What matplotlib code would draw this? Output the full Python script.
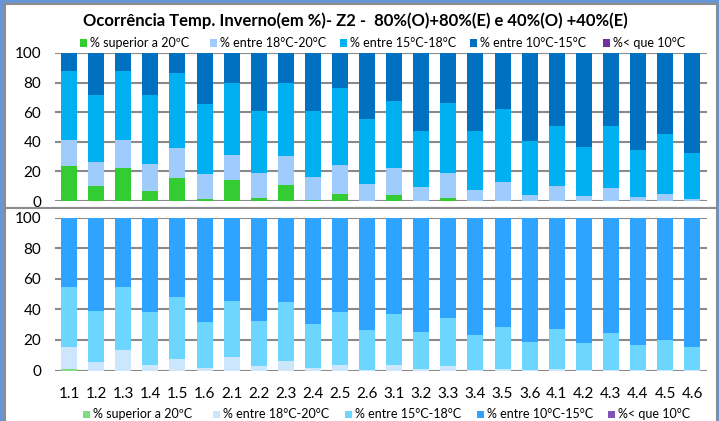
import matplotlib
matplotlib.use("Agg")
import matplotlib.pyplot as plt
from matplotlib.patches import Rectangle
import numpy as np

plt.rcParams['font.family'] = ['Lato', 'DejaVu Sans']

categories = ["1.1", "1.2", "1.3", "1.4", "1.5", "1.6",
              "2.1", "2.2", "2.3", "2.4", "2.5", "2.6",
              "3.1", "3.2", "3.3", "3.4", "3.5", "3.6",
              "4.1", "4.2", "4.3", "4.4", "4.5", "4.6"]

series_labels = ["% superior a 20ºC", "% entre 18°C-20°C", "% entre 15°C-18°C",
                 "% entre 10°C-15°C", "%< que 10°C"]

# Top panel (80%(O)+80%(E))
top_sup20 = [23.8, 9.9, 22.2, 6.5, 15.7, 1.3, 14.4, 2.0, 11.0, 0.9, 4.9, 0.0,
             4.3, 0.0, 2.0, 0.0, 0.0, 0.0, 0.0, 0.0, 0.0, 0.0, 0.0, 0.0]
top_18_20 = [17.3, 16.4, 18.9, 18.4, 20.0, 17.1, 16.6, 16.9, 19.6, 15.5, 19.4, 11.7,
             17.9, 9.4, 16.9, 7.4, 12.8, 4.0, 10.1, 3.4, 8.5, 2.5, 4.7, 1.3]
top_15_18 = [46.8, 45.2, 46.8, 46.6, 50.6, 47.2, 48.6, 41.8, 49.0, 44.3, 51.9, 43.6,
             45.2, 37.8, 47.2, 39.8, 49.2, 36.4, 40.5, 33.0, 42.1, 31.9, 40.5, 31.1]
top_10_15 = [12.1, 28.5, 12.1, 28.5, 13.7, 34.4, 20.4, 39.3, 20.4, 39.3, 23.8, 44.7,
             32.6, 52.8, 33.9, 52.8, 38.0, 59.6, 49.4, 63.6, 49.4, 65.6, 54.8, 67.6]
top_lt10 = [0.0] * 24

# Bottom panel (40%(O)+40%(E))
bot_sup20 = [1.3, 0.0, 0.0, 0.0, 0.0, 0.0, 0.0, 0.0, 0.0, 0.0, 0.0, 0.0,
             0.0, 0.0, 0.0, 0.0, 0.0, 0.0, 0.0, 0.0, 0.0, 0.0, 0.0, 0.0]
bot_18_20 = [14.2, 5.7, 13.1, 3.7, 7.6, 1.7, 8.7, 2.8, 6.5, 1.7, 3.3, 0.3,
             3.7, 1.1, 2.8, 0.2, 1.1, 0.2, 1.1, 0.2, 0.3, 0.2, 0.2, 0.2]
bot_15_18 = [39.2, 33.3, 41.6, 34.6, 40.5, 30.1, 36.6, 29.7, 38.4, 29.0, 35.0, 26.3,
             33.1, 24.2, 31.6, 23.1, 27.4, 18.3, 25.9, 17.7, 24.5, 16.6, 19.6, 15.1]
bot_10_15 = [45.3, 60.5, 45.3, 61.2, 51.9, 67.7, 54.7, 67.0, 55.1, 68.8, 61.7, 72.9,
             62.9, 74.4, 65.3, 76.2, 71.2, 81.0, 72.7, 81.6, 74.9, 82.7, 79.9, 84.4]
bot_lt10 = [0.0, 0.5, 0.0, 0.5, 0.0, 0.5, 0.0, 0.5, 0.0, 0.5, 0.0, 0.5,
            0.3, 0.3, 0.3, 0.5, 0.3, 0.5, 0.3, 0.5, 0.3, 0.5, 0.3, 0.3]

y_ticks = [0, 20, 40, 60, 80, 100]

title = "Ocorrência Temp. Inverno(em %)- Z2 -  80%(O)+80%(E) e 40%(O) +40%(E)"

top_colors = ["#33CC33", "#9FCBFD", "#00B0F0", "#0070C0", "#7030A0"]
bot_colors = ["#80DC80", "#CCE7FD", "#6CD6FF", "#2EA3FF", "#7F55B8"]

W, H = 719, 421
fig = plt.figure(figsize=(W / 100, H / 100), dpi=100)
fig.patch.set_facecolor("#6896D4")

def fx(px):
    return px / W

def fy(py):
    return 1 - py / H

# white boxes with grey borders
for (x0, y0, x1, y1) in [(4.5, 3.5, 717, 207.5), (4.5, 208.5, 717, 425)]:
    fig.patches.append(Rectangle((fx(x0), fy(y1)), fx(x1) - fx(x0), fy(y0) - fy(y1),
                                 transform=fig.transFigure, facecolor="white",
                                 edgecolor="#8C8C8C", linewidth=1.5, zorder=-10))

x = np.arange(len(categories))
bw = 0.59

def draw_panel(ax, segments, colors, show_xlabels):
    bottom = np.zeros(len(categories))
    for seg, col, lab in zip(segments, colors, series_labels):
        vals = np.array(seg)
        ax.bar(x, vals, bw, bottom=bottom, color=col, label=lab, zorder=3, linewidth=0)
        bottom += vals
    ax.set_xlim(-0.52, 23.53)
    ax.set_ylim(0, 100)
    ax.set_yticks(y_ticks)
    ax.yaxis.grid(True, color="#8A8A8A", linewidth=1.5)
    ax.set_axisbelow(True)
    for s in ax.spines.values():
        s.set_visible(False)
    ax.tick_params(axis="both", length=0)
    ax.tick_params(axis="y", pad=10, labelsize=11, colors="#000000")
    ax.set_xticks(x)
    if show_xlabels:
        ax.set_xticklabels(categories, fontsize=11)
        ax.tick_params(axis="x", pad=12)
    else:
        ax.set_xticklabels([])
    ax.set_facecolor("none")

ax1 = fig.add_axes([fx(55), fy(201), fx(706.5) - fx(55), fy(53) - fy(201)])
draw_panel(ax1, [top_sup20, top_18_20, top_15_18, top_10_15, top_lt10], top_colors, False)

ax2 = fig.add_axes([fx(55), fy(370.5), fx(706.5) - fx(55), fy(217.5) - fy(370.5)])
draw_panel(ax2, [bot_sup20, bot_18_20, bot_15_18, bot_10_15, bot_lt10], bot_colors, True)

fig.text(fx(355), fy(21), title, ha="center", va="center", fontsize=12,
         fontweight="bold")

def draw_legend(y_center, x_starts, colors):
    for xs, col, lab in zip(x_starts, colors, series_labels):
        fig.patches.append(Rectangle((fx(xs), fy(y_center + 3.5)), fx(7), 7 / H,
                                     transform=fig.transFigure, facecolor=col,
                                     edgecolor="none", zorder=5))
        fig.text(fx(xs + 10), fy(y_center), lab, ha="left", va="center",
                 fontsize=9, color="#000000")

draw_legend(43, [80, 210, 340, 470, 603], top_colors)
draw_legend(414, [83, 213, 345, 477, 608], bot_colors)

fig.savefig("out.png", dpi=100, facecolor=fig.get_facecolor())
